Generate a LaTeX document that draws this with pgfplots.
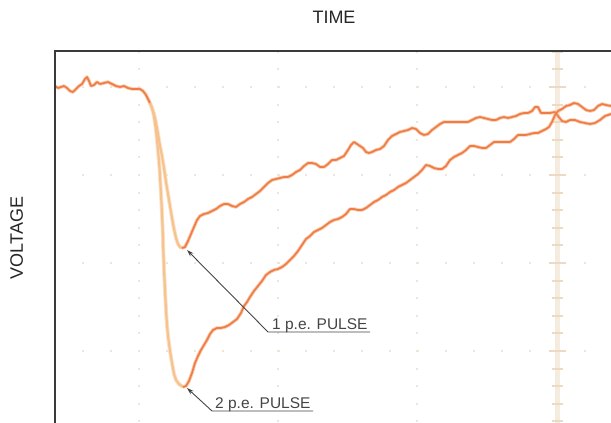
\documentclass[border=0pt]{standalone}
\usepackage{pgfplots}
\pgfplotsset{compat=1.18}
\usepackage{pgfplotstable}
\usepackage{fontspec}
\setmainfont{Liberation Sans}
\usetikzlibrary{arrows.meta}

\definecolor{trace}{HTML}{EF7B45}
\definecolor{halo}{HTML}{F9C6A6}
\definecolor{edge}{HTML}{F6C28E}
\definecolor{edgehalo}{HTML}{FBE3CB}
\definecolor{griddot}{HTML}{F1E5D6}
\definecolor{reticle}{HTML}{F5ECE0}
\definecolor{reticletick}{HTML}{ECDAC3}
\definecolor{frame}{HTML}{3A3A3A}
\definecolor{annot}{HTML}{444444}

\pgfplotstableread{
x y
55 86
58 88
61 87
64 86
67 88
70 91
73 92
76 89
79 86
82 84
85 79
87 77
89 81
91 86
94 85
97 82
100 84
104 83
108 82
112 84
116 86
120 87
124 86
128 88
132 89
136 89
140 89
143 91
146 95
148 99
150 103
}\tblbase

\pgfplotstableread{
x y
150 103
152 108
154 114
156 123
158 134
160 146
162 156
164 168
166 182
168 194
170 206
172 218
174 229
176 238
178 244
180 247
182 248
}\tblAfall

\pgfplotstableread{
x y
182 248
185 247
188 241
191 234
194 227
197 220
200 216
204 214
208 213
212 211
216 209
220 206
224 204
228 204
232 206
236 207
240 204
244 202
248 199
252 197
256 194
260 191
264 187
268 183
272 180
276 179
280 178
284 177
288 177
292 175
296 172
300 170
304 166
308 163
312 163
316 164
320 167
324 167
328 164
332 160
336 160
340 158
344 156
348 150
351 145
354 142
357 144
360 146
363 148
366 152
369 153
372 152
376 150
380 149
384 146
388 140
392 136
396 134
400 132
404 131
408 130
412 128
416 129
420 133
424 135
428 134
432 130
436 127
440 124
444 122
448 122
452 122
456 122
460 122
464 122
468 122
472 120
476 118
480 117
484 118
488 119
492 120
496 120
500 118
504 117
508 118
512 117
516 116
520 114
524 113
528 113
532 111
535 107
538 107
541 113
545 113
550 113
555 112
558 116
562 121
566 122
570 120
575 120
580 122
585 123
590 124
595 123
600 120
605 116
611 114
}\tblArise

\pgfplotstableread{
x y
150 103
152 108
154 116
156 130
158 150
159.5 168
160.5 185
161.5 203
162.5 225
163.3 250
164 270
165 290
166 310
167 325
168 336
170 351
172 363
174 374
176 380
179 384
183 387
}\tblBfall

\pgfplotstableread{
x y
183 387
186 386
189 381
192 373
195 363
198 356
201 350
204 345
207 340
210 334
213 330
217 328
221 328
225 327
229 325
233 322
237 319
241 313
244 306
247 302
250 297
254 291
258 286
262 281
266 275
270 272
274 270
278 269
282 267
286 264
290 260
294 256
298 251
302 245
306 239
310 236
314 232
318 230
322 228
326 225
330 222
334 220
338 219
342 217
346 214
350 209
354 209
358 210
362 210
366 208
370 205
374 202
378 200
382 197
386 195
390 192
394 190
398 187
402 185
406 183
410 180
414 177
418 174
422 170
426 165
430 166
434 168
438 169
442 169
446 166
450 160
454 157
458 155
462 153
466 150
470 146
474 146
478 147
482 148
486 148
490 145
494 142
498 142
502 142
506 142
510 142
514 139
518 135
522 135
526 135
530 134
534 133
538 133
542 131
546 129
549 127
552 122
555 115
558 111
562 109
566 106
570 105
574 103
578 104
582 107
586 110
590 111
594 110
598 106
602 104
606 105
611 106
}\tblBrise

\begin{document}
\begin{tikzpicture}
\useasboundingbox (-55pt,0pt) rectangle (556pt,423pt);
\begin{axis}[
  at={(0pt,0pt)}, anchor=south west,
  scale only axis, width=556pt, height=372pt,
  xmin=55, xmax=611, ymin=51, ymax=423, y dir=reverse,
  xtick=\empty, ytick=\empty,
  axis line style={draw=none},
  clip=false,
]
% faint dotted graticule
\draw[griddot, line width=2pt, dash pattern=on 2pt off 25.9pt] (axis cs:54.3,87) -- (axis cs:611,87);
\draw[griddot, line width=2pt, dash pattern=on 2pt off 25.9pt] (axis cs:54.3,175) -- (axis cs:611,175);
\draw[griddot, line width=2pt, dash pattern=on 2pt off 25.9pt] (axis cs:54.3,263) -- (axis cs:611,263);
\draw[griddot, line width=2pt, dash pattern=on 2pt off 25.9pt] (axis cs:54.3,351) -- (axis cs:611,351);
\draw[griddot, line width=2pt, dash pattern=on 2pt off 15.6pt] (axis cs:139,50.8) -- (axis cs:139,423);
\draw[griddot, line width=2pt, dash pattern=on 2pt off 15.6pt] (axis cs:278,50.8) -- (axis cs:278,423);
\draw[griddot, line width=2pt, dash pattern=on 2pt off 15.6pt] (axis cs:417,50.8) -- (axis cs:417,423);
% centre reticle
\draw[reticle, line width=5pt] (axis cs:557,51) -- (axis cs:557,423);
\draw[reticletick, line width=11pt, dash pattern=on 2pt off 15.6pt] (axis cs:557,50.8) -- (axis cs:557,423);
\draw[reticletick, line width=17pt, dash pattern=on 2.2pt off 85.8pt] (axis cs:557,85.9) -- (axis cs:557,423);

% traces
\addplot[edgehalo, line width=4pt, line join=round] table {\tblAfall};
\addplot[edgehalo, line width=4pt, line join=round] table {\tblBfall};
\addplot[edge, line width=2.2pt, line join=round] table {\tblAfall};
\addplot[edge, line width=2.2pt, line join=round] table {\tblBfall};
\addplot[halo, line width=3.4pt, line join=round] table {\tblbase};
\addplot[halo, line width=3.4pt, line join=round] table {\tblArise};
\addplot[halo, line width=3.4pt, line join=round] table {\tblBrise};
\addplot[trace, line width=1.6pt, line join=round] table {\tblbase};
\addplot[trace, line width=1.6pt, line join=round] table {\tblArise};
\addplot[trace, line width=1.6pt, line join=round] table {\tblBrise};

% frame (left and top only)
\draw[frame, line width=2pt] (axis cs:55,423) -- (axis cs:55,51) -- (axis cs:612,51);

% annotations
\draw[annot, line width=0.9pt, -{Stealth[length=7pt,width=4.5pt]}] (axis cs:370,332) -- (axis cs:268,332) -- (axis cs:187,250);
\draw[annot, line width=0.9pt, -{Stealth[length=7pt,width=4.5pt]}] (axis cs:313,411) -- (axis cs:212,411) -- (axis cs:187,388);
\node[anchor=base west, inner sep=0pt, text=annot, font=\fontsize{15.5}{18}\selectfont] at (axis cs:272,329) {1 p.e. PULSE};
\node[anchor=base west, inner sep=0pt, text=annot, font=\fontsize{15.5}{18}\selectfont] at (axis cs:215,408.5) {2 p.e. PULSE};

% titles
\node[anchor=base, inner sep=0pt, text=black!85, font=\fontsize{18}{21}\selectfont] at (axis cs:334,24) {TIME};
\node[anchor=base, rotate=90, inner sep=0pt, text=black!85, font=\fontsize{18}{21}\selectfont] at (axis cs:23,238) {VOLTAGE};
\end{axis}
\end{tikzpicture}
\end{document}
